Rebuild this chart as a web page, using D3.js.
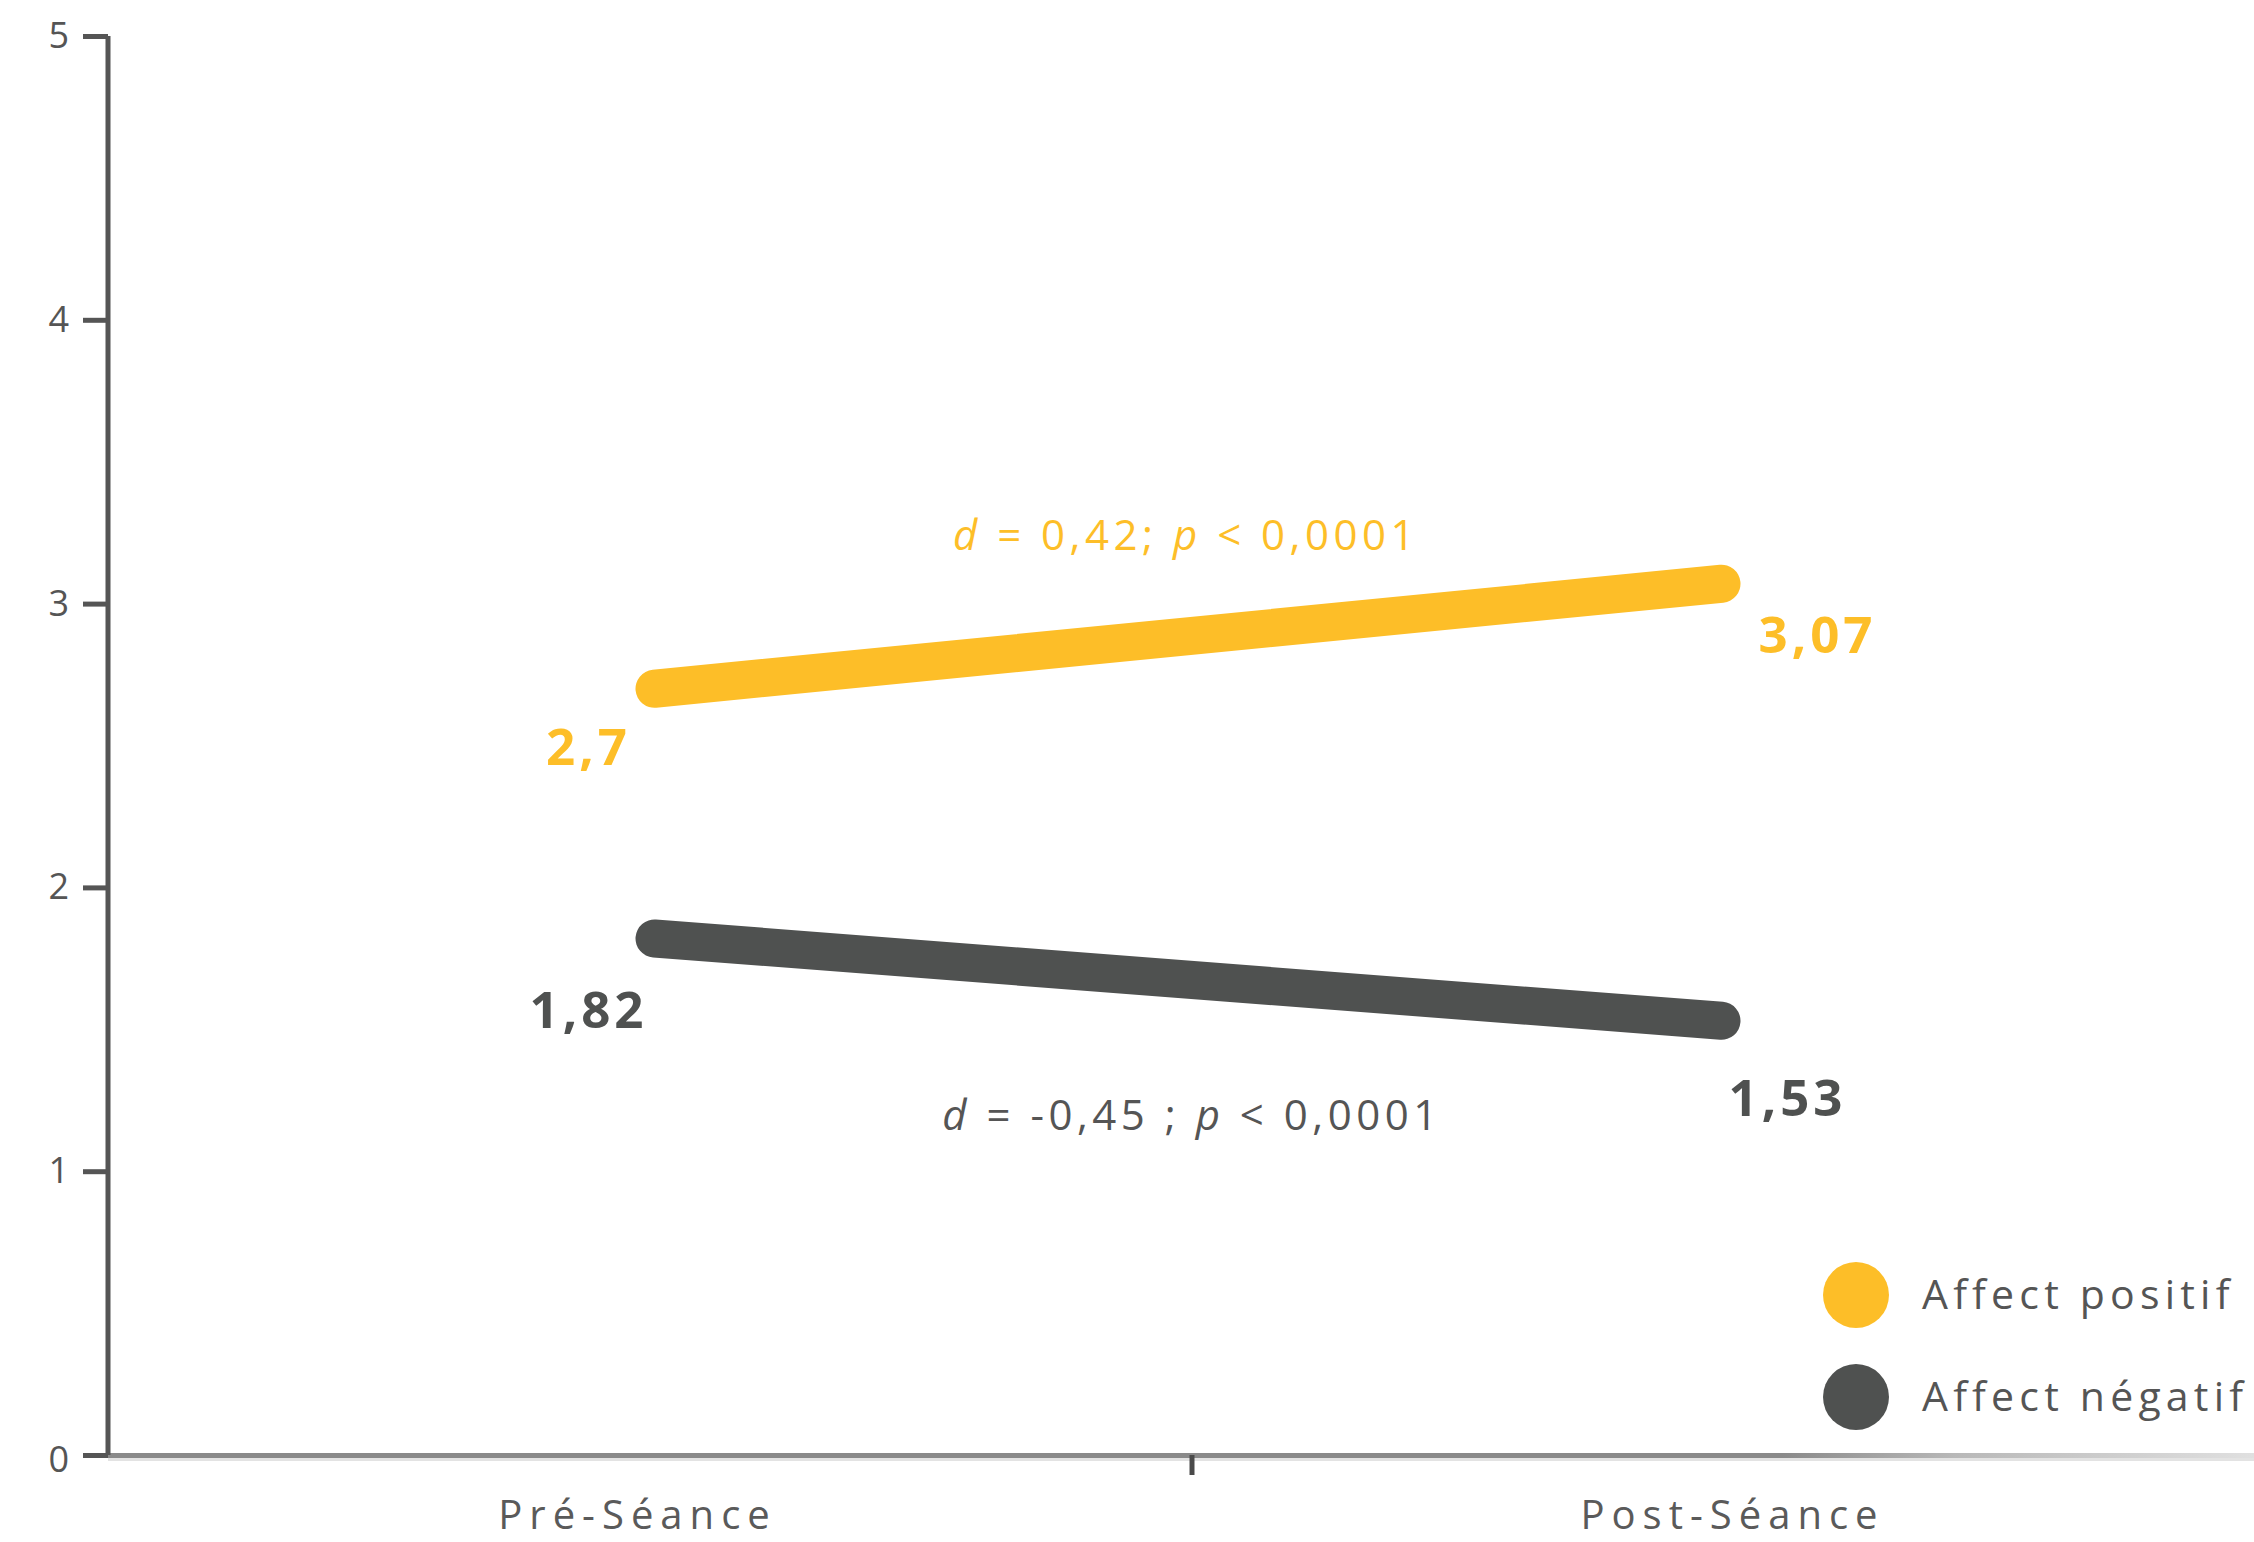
<!DOCTYPE html>
<html>
<head>
<meta charset="utf-8">
<script src="https://cdn.jsdelivr.net/npm/d3@7"></script>
<style>
  html, body { margin: 0; padding: 0; background: #ffffff; }
  svg { display: block; }
  text { font-family: "Open Sans", sans-serif; }
</style>
</head>
<body>
<svg id="chart" width="2254" height="1542"></svg>
<script>
// ---- data ----
const phases = ["Pré-Séance", "Post-Séance"];
const seriesNames = ["Affect positif", "Affect négatif"];
const positifValues = [2.7, 3.07];
const negatifValues = [1.82, 1.53];
const positifLabels = ["2,7", "3,07"];
const negatifLabels = ["1,82", "1,53"];
const yTicks = [0, 1, 2, 3, 4, 5];
const statPositif = ["d", " = 0,42; ", "p", " < 0,0001"];
const statNegatif = ["d", " = -0,45 ; ", "p", " < 0,0001"];

(function () {
const colors = { positif: "#FDBE28", negatif: "#4F5150" };

const svg = d3.select("#chart");
const W = 2254, H = 1542;
const mLeft = 108, mTop = 36, mBottom = 1455, mRight = 2270;

const y = d3.scaleLinear().domain([0, 5]).range([mBottom, mTop]);
const x = d3.scalePoint().domain(phases).range([mLeft, mRight]).padding(0.5);

// gradient for x axis fade
const defs = svg.append("defs");
const grad = defs.append("linearGradient").attr("id", "axfade")
  .attr("gradientUnits", "userSpaceOnUse")
  .attr("x1", mLeft).attr("x2", W).attr("y1", 0).attr("y2", 0);
grad.append("stop").attr("offset", "0.78").attr("stop-color", "#8a8a8a");
grad.append("stop").attr("offset", "0.86").attr("stop-color", "#b8b8b8");
grad.append("stop").attr("offset", "1").attr("stop-color", "#e0e0e0");

// x axis line
svg.append("rect").attr("x", mLeft).attr("y", mBottom - 2).attr("width", W - mLeft).attr("height", 5)
  .attr("fill", "url(#axfade)");
svg.append("rect").attr("x", mLeft).attr("y", mBottom + 3).attr("width", W - mLeft).attr("height", 3)
  .attr("fill", "#e3e3e3");

// middle tick
const mid = (x(phases[0]) + x(phases[1])) / 2;
svg.append("line").attr("x1", mid + 3).attr("x2", mid + 3).attr("y1", mBottom).attr("y2", mBottom + 20)
  .attr("stroke", "#4a4a4a").attr("stroke-width", 5);

// x labels
const labelShift = [-11, 3];
svg.append("g").selectAll("text").data(phases).join("text")
  .attr("x", (d, i) => x(d) + labelShift[i]).attr("y", mBottom + 74)
  .attr("text-anchor", "middle")
  .attr("font-size", 40).attr("letter-spacing", 7)
  .attr("fill", "#5a5a5a")
  .text(d => d);

// y axis
const yAxis = d3.axisLeft(y).tickValues(yTicks).tickSize(25).tickPadding(14).tickFormat(d3.format("d"));
const gy = svg.append("g").attr("transform", `translate(${mLeft},0)`).call(yAxis);
gy.select(".domain").attr("stroke", "#555").attr("stroke-width", 5).attr("d", `M0,${mTop}V${mBottom}`);
gy.selectAll(".tick line").attr("stroke", "#555").attr("stroke-width", 5);
gy.selectAll(".tick text").attr("font-size", 36).attr("fill", "#555")
  .attr("font-family", "Open Sans, sans-serif");
gy.selectAll(".tick").filter(d => d === 0).select("text").attr("dy", "0.45em");

// lines
const lineGen = d3.line().x((d, i) => x(phases[i]) + (i === 0 ? 6 : -8)).y(d => y(d));
svg.append("path").datum(positifValues).attr("d", lineGen)
  .attr("fill", "none").attr("stroke", colors.positif).attr("stroke-width", 38).attr("stroke-linecap", "round");
svg.append("path").datum(negatifValues).attr("d", lineGen)
  .attr("fill", "none").attr("stroke", colors.negatif).attr("stroke-width", 38).attr("stroke-linecap", "round");

// value labels
const posOff = [[-60, 76], [88, 69]];
const negOff = [[-60, 90], [58, 95]];
svg.append("g").selectAll("text").data(positifValues).join("text")
  .attr("x", (d, i) => x(phases[i]) + posOff[i][0])
  .attr("y", (d, i) => y(d) + posOff[i][1])
  .attr("text-anchor", "middle").attr("font-size", 51).attr("font-weight", 700).attr("letter-spacing", 4)
  .attr("fill", colors.positif).text((d, i) => positifLabels[i]);
svg.append("g").selectAll("text").data(negatifValues).join("text")
  .attr("x", (d, i) => x(phases[i]) + negOff[i][0])
  .attr("y", (d, i) => y(d) + negOff[i][1])
  .attr("text-anchor", "middle").attr("font-size", 51).attr("font-weight", 700).attr("letter-spacing", 4)
  .attr("fill", colors.negatif).text((d, i) => negatifLabels[i]);

// stat annotations
function stat(parts, cx, cy, color) {
  const t = svg.append("text").attr("x", cx).attr("y", cy).attr("text-anchor", "middle")
    .attr("font-size", 42).attr("letter-spacing", 4.5).attr("fill", color);
  parts.forEach((p, i) => {
    t.append("tspan").attr("font-style", (i === 0 || i === 2) ? "italic" : "normal").text(p);
  });
}
stat(statPositif, mid - 3, 550, colors.positif);
stat(statNegatif, mid + 3, 1130, "#555");

// legend
const legendColors = [colors.positif, colors.negatif];
const lg = svg.append("g").selectAll("g").data(seriesNames).join("g")
  .attr("transform", (d, i) => `translate(1856,${1295 + i * 102})`);
lg.append("circle").attr("r", 33).attr("fill", (d, i) => legendColors[i]);
lg.append("text").attr("x", 66).attr("y", 14).attr("font-size", 41).attr("letter-spacing", 5.2)
  .attr("fill", "#555").text(d => d);
})();
</script>
</body>
</html>
